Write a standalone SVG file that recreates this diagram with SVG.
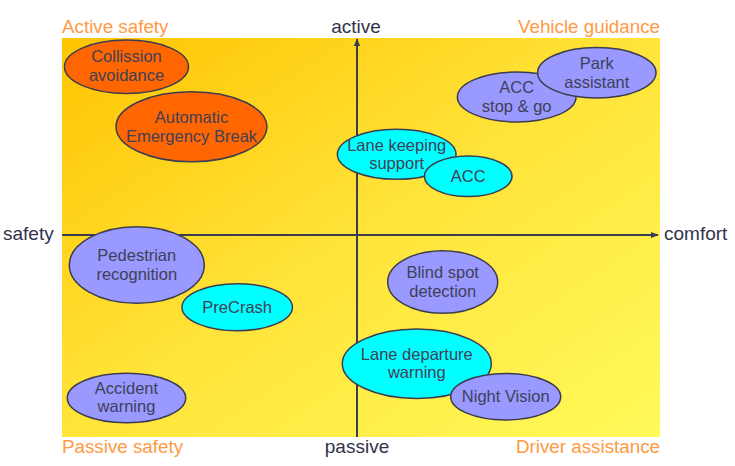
<svg xmlns="http://www.w3.org/2000/svg" width="735" height="466" viewBox="0 0 735 466">
<defs>
<linearGradient id="bg" x1="0" y1="0" x2="1" y2="1">
<stop offset="0" stop-color="#FFC400"/>
<stop offset="0.5" stop-color="#FFE43A"/>
<stop offset="1" stop-color="#FFFA5A"/>
</linearGradient>
<marker id="arr" viewBox="0 0 10 10" refX="9" refY="5" markerWidth="4" markerHeight="4" orient="auto" markerUnits="strokeWidth">
<path d="M0,1 L10,5 L0,9 z" fill="#3C3C50"/>
</marker>
<style>
.axis{stroke:#3C3C50;stroke-width:2;fill:none}
.node ellipse{stroke:#3C3C50;stroke-width:1.5}
.orange{fill:#FF6600}
.cyan{fill:#00FFFF}
.purple{fill:#9999FF}
.nt{font-family:"Liberation Sans",Arial,sans-serif;font-size:16.5px;fill:#404058;text-anchor:middle}
.lab{font-family:"Liberation Sans",Arial,sans-serif;font-size:19px;fill:#33334A}
.quad{font-family:"Liberation Sans",Arial,sans-serif;font-size:18.8px;fill:#FF9A44}
</style>
</defs>
<rect x="62" y="38" width="598" height="399" fill="url(#bg)"/>
<g id="connectors">
<line class="axis" x1="62" y1="235" x2="658" y2="235" marker-end="url(#arr)"/>
<line class="axis" x1="357" y1="437" x2="357" y2="39" marker-end="url(#arr)"/>
</g>
<g id="labels">
<text class="quad" x="62" y="33">Active safety</text>
<text class="quad" x="660" y="33" text-anchor="end">Vehicle guidance</text>
<text class="quad" x="62" y="453">Passive safety</text>
<text class="quad" x="660" y="453" text-anchor="end">Driver assistance</text>
<text class="lab" x="356" y="33" text-anchor="middle">active</text>
<text class="lab" x="357" y="453" text-anchor="middle">passive</text>
<text class="lab" x="3" y="240">safety</text>
<text class="lab" x="664" y="240">comfort</text>
</g>
<g id="collision-avoidance" class="node">
<ellipse class="orange" cx="126.5" cy="66.7" rx="62" ry="26.7"/>
<text class="nt" x="126.5" y="62">Collission</text>
<text class="nt" x="126.5" y="80.5">avoidance</text>
</g>
<g id="automatic-emergency-break" class="node">
<ellipse class="orange" cx="191.5" cy="126.8" rx="75.5" ry="35"/>
<text class="nt" x="191.5" y="123.3">Automatic</text>
<text class="nt" x="191.5" y="141.8">Emergency Break</text>
</g>
<g id="lane-keeping-support" class="node">
<ellipse class="cyan" cx="396.7" cy="154.3" rx="59.3" ry="25"/>
<text class="nt" x="396.7" y="150.7">Lane keeping</text>
<text class="nt" x="396.7" y="169.3">support</text>
</g>
<g id="acc" class="node">
<ellipse class="cyan" cx="468.2" cy="176.3" rx="43.8" ry="20.3"/>
<text class="nt" x="468.2" y="182">ACC</text>
</g>
<g id="acc-stop-go" class="node">
<ellipse class="purple" cx="516.7" cy="97" rx="59.3" ry="25"/>
<text class="nt" x="516.7" y="93.3">ACC</text>
<text class="nt" x="516.7" y="111.5">stop &amp; go</text>
</g>
<g id="park-assistant" class="node">
<ellipse class="purple" cx="596.8" cy="72.8" rx="59.2" ry="25.2"/>
<text class="nt" x="596.8" y="69">Park</text>
<text class="nt" x="596.8" y="87.7">assistant</text>
</g>
<g id="pedestrian-recognition" class="node">
<ellipse class="purple" cx="136.8" cy="265" rx="67.5" ry="38.3"/>
<text class="nt" x="136.8" y="261.3">Pedestrian</text>
<text class="nt" x="136.8" y="279.8">recognition</text>
</g>
<g id="precrash" class="node">
<ellipse class="cyan" cx="237.2" cy="307.2" rx="55.2" ry="23.5"/>
<text class="nt" x="237.2" y="312.7">PreCrash</text>
</g>
<g id="accident-warning" class="node">
<ellipse class="purple" cx="126.5" cy="398" rx="59.2" ry="24.7"/>
<text class="nt" x="126.5" y="394">Accident</text>
<text class="nt" x="126.5" y="412.3">warning</text>
</g>
<g id="blind-spot-detection" class="node">
<ellipse class="purple" cx="442.7" cy="282" rx="55" ry="31.3"/>
<text class="nt" x="442.7" y="278.3">Blind spot</text>
<text class="nt" x="442.7" y="296.7">detection</text>
</g>
<g id="lane-departure-warning" class="node">
<ellipse class="cyan" cx="416.8" cy="363.7" rx="74.5" ry="34.7"/>
<text class="nt" x="416.8" y="360">Lane departure</text>
<text class="nt" x="416.8" y="377.5">warning</text>
</g>
<g id="night-vision" class="node">
<ellipse class="purple" cx="505.7" cy="396.7" rx="55" ry="23.3"/>
<text class="nt" x="505.7" y="402">Night Vision</text>
</g>
</svg>
